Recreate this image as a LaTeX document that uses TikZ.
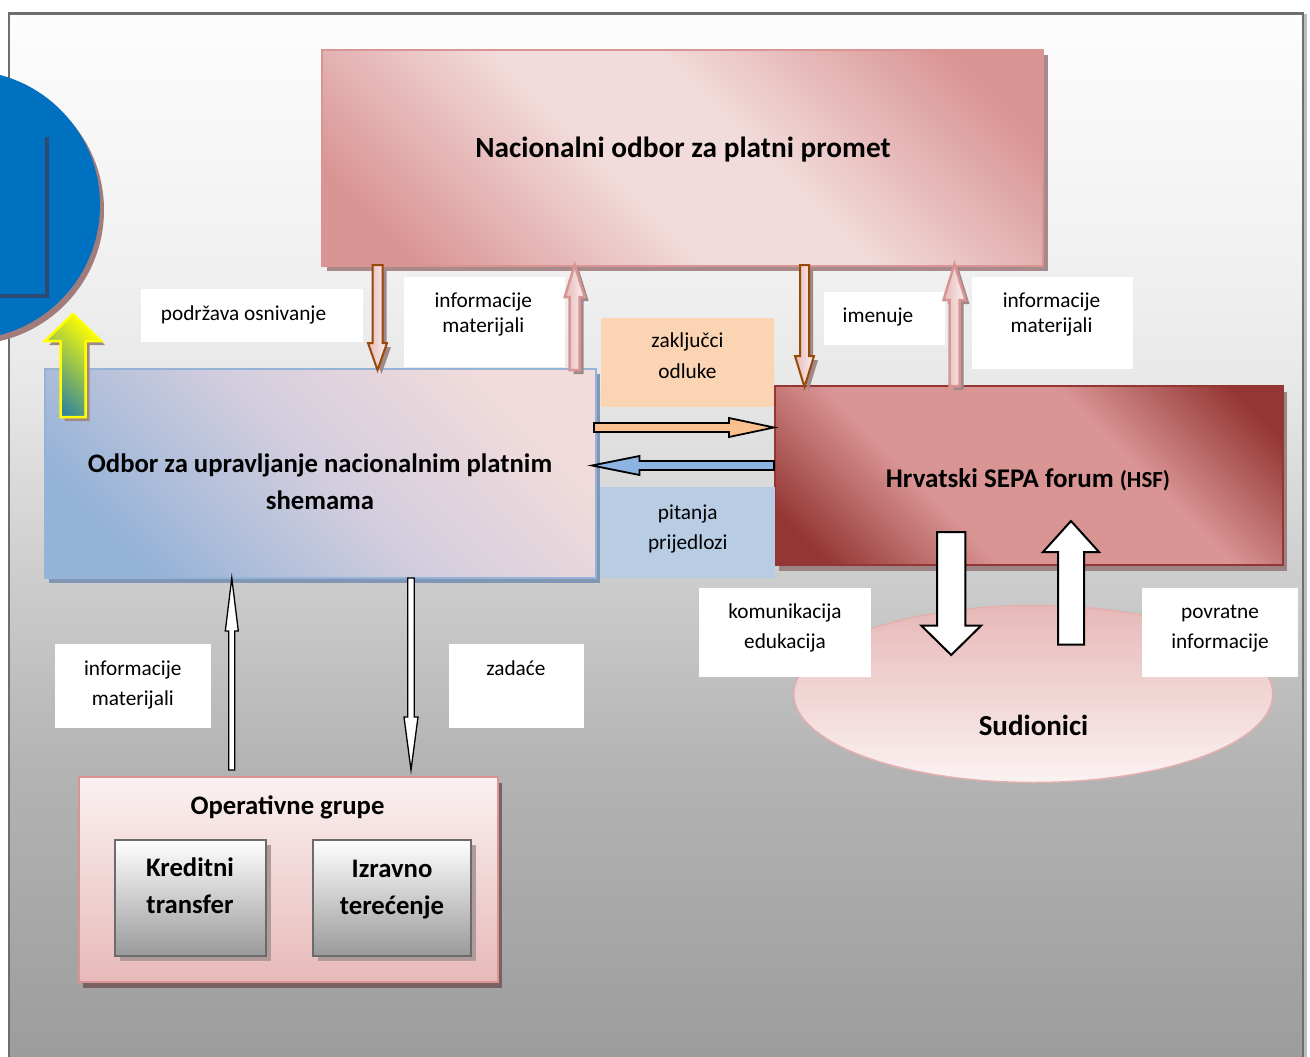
\documentclass[tikz,border=0pt]{standalone}
\usepackage{fontspec}
\setmainfont{Carlito}
\usetikzlibrary{shadows,shapes.geometric}
\definecolor{bgA}{HTML}{9C9C9C}
\definecolor{bgB}{HTML}{B4B4B4}
\definecolor{bgC}{HTML}{CFCFCF}
\definecolor{bgD}{HTML}{E8E8E8}
\definecolor{bgE}{HTML}{F0F0F0}
\definecolor{bgF}{HTML}{FDFDFD}
\definecolor{frameC}{HTML}{6E6E6E}
\definecolor{frameS}{HTML}{BDBDBD}
\definecolor{nobDark}{HTML}{D99594}
\definecolor{nobLight}{HTML}{F2DCDB}
\definecolor{hsfDark}{HTML}{943634}
\definecolor{hsfLight}{HTML}{D99594}
\definecolor{ounsBlue}{HTML}{95B3D7}
\definecolor{ounsMid}{HTML}{D2CDDE}
\definecolor{ounsPink}{HTML}{F2DCDB}
\definecolor{brownC}{HTML}{984807}
\definecolor{pinkEdge}{HTML}{D99594}
\definecolor{arrPink}{HTML}{E6B9B8}
\definecolor{arrLight}{HTML}{FAF0F0}
\definecolor{peachF}{HTML}{FBD4B4}
\definecolor{paleBlue}{HTML}{B8CCE4}
\definecolor{orangeF}{HTML}{FAC090}
\definecolor{blueF}{HTML}{8DB3E2}
\definecolor{circBlue}{HTML}{0070C0}
\definecolor{circLine}{HTML}{2C4A72}
\definecolor{yTeal}{HTML}{31859C}
\definecolor{yYellow}{HTML}{FFFF00}
\definecolor{sudTop}{HTML}{E6B9B8}
\definecolor{sudBot}{HTML}{FCF2F2}
\definecolor{sudEdge}{HTML}{E3B0AF}
\definecolor{opgTop}{HTML}{FBF1F1}
\definecolor{opgBot}{HTML}{E6B9B8}
\definecolor{grayBot}{HTML}{999999}
\definecolor{grayEdge}{HTML}{6B6B6B}
\definecolor{shNob}{HTML}{A88A8A}
\definecolor{shOuns}{HTML}{8096B4}
\definecolor{shHsf}{HTML}{9C8484}
\definecolor{shOpg}{HTML}{7A6262}
\definecolor{shGray}{HTML}{B09A9A}
\definecolor{shArr}{HTML}{A08888}
\definecolor{shCirc}{HTML}{A07C7C}
\pgfdeclareverticalshading{bgshade}{100bp}{color(0bp)=(bgA); color(25bp)=(bgA); color(39.2bp)=(bgB); color(48.8bp)=(bgC); color(57.4bp)=(bgD); color(62.7bp)=(bgE); color(75bp)=(bgF); color(100bp)=(bgF)}
\pgfdeclareverticalshading{nobshade}{100bp}{color(0bp)=(nobDark); color(22bp)=(nobDark); color(44bp)=(nobLight); color(56bp)=(nobLight); color(78bp)=(nobDark); color(100bp)=(nobDark)}
\pgfdeclareverticalshading{hsfshade}{100bp}{color(0bp)=(hsfDark); color(20bp)=(hsfDark); color(38bp)=(hsfLight); color(62bp)=(hsfLight); color(80bp)=(hsfDark); color(100bp)=(hsfDark)}
\newcommand{\arrV}[7]{\path[#1] ({#2-#6},#3) -- ({#2-#6},#4) -- ({#2-#7},#4) -- (#2,#5) -- ({#2+#7},#4) -- ({#2+#6},#4) -- ({#2+#6},#3) -- cycle;}
\newcommand{\arrH}[7]{\path[#1] (#3,{#2-#6}) -- (#4,{#2-#6}) -- (#4,{#2-#7}) -- (#5,#2) -- (#4,{#2+#7}) -- (#4,{#2+#6}) -- (#3,{#2+#6}) -- cycle;}
\tikzset{
  every node/.style={inner sep=0pt, outer sep=0pt},
  boxnode/.style={rectangle, anchor=north west},
  nobbox/.style={boxnode, draw=nobDark, line width=2pt, shading=nobshade, shading angle=-45,
    drop shadow={shadow xshift=5pt, shadow yshift=-5pt, fill=shNob, opacity=1}},
  ounsbox/.style={boxnode, draw=ounsBlue, line width=2.5pt, top color=ounsPink, bottom color=ounsBlue, middle color=ounsMid, shading angle=-45,
    drop shadow={shadow xshift=4pt, shadow yshift=-5pt, fill=shOuns, opacity=1}},
  hsfbox/.style={boxnode, draw=hsfDark, line width=2.5pt, shading=hsfshade, shading angle=-45,
    drop shadow={shadow xshift=4pt, shadow yshift=-6pt, fill=shHsf, opacity=1}},
  opgbox/.style={boxnode, draw=nobDark, line width=2.5pt, top color=opgTop, bottom color=opgBot,
    drop shadow={shadow xshift=4pt, shadow yshift=-6pt, fill=shOpg, opacity=1}},
  graybox/.style={boxnode, draw=grayEdge, line width=2.5pt, top color=white, bottom color=grayBot,
    drop shadow={shadow xshift=5pt, shadow yshift=-5pt, fill=shGray, opacity=1}},
  lblbox/.style={boxnode, fill=white},
  lbl/.style={align=center, font=\fontsize{21.3}{30}\selectfont},
  bigtxt/.style={align=center, font=\bfseries\fontsize{26.7}{36.7}\selectfont},
  brownarrow/.style={draw=brownC, line width=2pt, left color=arrPink, right color=arrLight,
    drop shadow={shadow xshift=4pt, shadow yshift=-4pt, fill=shArr, opacity=1}},
  pinkarrow/.style={draw=pinkEdge, line width=2.5pt, left color=arrPink, right color=arrLight,
    drop shadow={shadow xshift=4pt, shadow yshift=-4pt, fill=shArr, opacity=1}},
  thinarrow/.style={draw=black, line width=1.3pt, fill=white},
  bigarrow/.style={draw=black, line width=2pt, fill=white},
  orangearrow/.style={draw=black, line width=1.8pt, fill=orangeF},
  bluearrow/.style={draw=black, line width=1.8pt, fill=blueF},
  yellowarrow/.style={draw=yYellow, line width=2.5pt, bottom color=yTeal, top color=yYellow, shading angle=-45,
    drop shadow={shadow xshift=4pt, shadow yshift=-4pt, fill=shArr, opacity=1}}
}
\begin{document}
\begin{tikzpicture}[x=1pt,y=-1pt]
\useasboundingbox (0,0) rectangle (1310,1057);
\clip (0,0) rectangle (1310,1057);
% page background and frame
\shade[shading=bgshade] (9,13) rectangle (1303,1060);
\draw[frameS, line width=2.5pt] (1305.5,14) -- (1305.5,1060);
\draw[frameC, line width=2.3pt] (9,1060) -- (9,13.5) -- (1303,13.5) -- (1303,1060);
% blue circle
\fill[circBlue, drop shadow={shadow xshift=4pt, shadow yshift=-5pt, fill=shCirc, opacity=1}] (-34.5,205) circle[radius=134.5pt];
\draw[circLine, line width=4pt] (0,296) -- (47,296) -- (47,137);
% main boxes
\node[nobbox, minimum width=721, minimum height=216] (nob) at (322,50) {};
\node[ounsbox, minimum width=551, minimum height=209] (ouns) at (45,369) {};
\node[hsfbox, minimum width=508, minimum height=179] (hsf) at (775,386) {};
\node[ellipse, draw=sudEdge, line width=1.5pt, top color=sudTop, bottom color=sudBot, minimum width=479, minimum height=177] (sud) at (1033.3,694) {};
\node[opgbox, minimum width=419, minimum height=205] (opg) at (79,777) {};
\node[graybox, minimum width=151, minimum height=116] (kt) at (115,840) {};
\node[graybox, minimum width=158, minimum height=116] (izt) at (313,840) {};
% label boxes
\node[lblbox, minimum width=222, minimum height=53] (bPod) at (141,289) {};
\node[lblbox, minimum width=161, minimum height=90] (bInf1) at (404,277) {};
\node[lblbox, fill=peachF, minimum width=173, minimum height=89] (bZak) at (601,318) {};
\node[lblbox, fill=paleBlue, minimum width=175, minimum height=91] (bPit) at (600,487) {};
\node[lblbox, minimum width=121, minimum height=53] (bIme) at (824,292) {};
\node[lblbox, minimum width=161, minimum height=92] (bInf2) at (972,277) {};
\node[lblbox, minimum width=156, minimum height=84] (bInf3) at (55,644) {};
\node[lblbox, minimum width=135, minimum height=84] (bZad) at (449,644) {};
\node[lblbox, minimum width=172, minimum height=89] (bKom) at (699,588) {};
\node[lblbox, minimum width=156, minimum height=89] (bPov) at (1142,588) {};
% texts
\node[align=center, font=\bfseries\fontsize{29.3}{34}\selectfont] (tNob) at (683,150) {Nacionalni odbor za platni promet};
\node[bigtxt] (tOuns) at (320,482) {Odbor za upravljanje nacionalnim platnim\\shemama};
\node[bigtxt, font=\bfseries\fontsize{27}{34}\selectfont] (tHsf) at (1028,480) {Hrvatski SEPA forum {\fontsize{23}{23}\selectfont(HSF)}};
\node[align=center, font=\bfseries\fontsize{29}{34}\selectfont] (tSud) at (1033.5,725) {Sudionici};
\node[bigtxt] (tOpg) at (287.5,807) {Operativne grupe};
\node[bigtxt] (tKt) at (190,885.7) {Kreditni\\transfer};
\node[bigtxt] (tIzt) at (392,889.5) {Izravno\\terećenje};
\node[lbl] (tPod) at (243.5,314.8) {podržava osnivanje};
\node[lbl, font=\fontsize{21.3}{24.4}\selectfont] (tInf1) at (483.3,314.3) {informacije\\materijali};
\node[lbl, font=\fontsize{21.3}{30.6}\selectfont] (tZak) at (687.5,355.7) {zaključci\\odluke};
\node[lbl] (tPit) at (687.8,528.7) {pitanja\\prijedlozi};
\node[lbl] (tIme) at (878,316.7) {imenuje};
\node[lbl, font=\fontsize{21.3}{24.4}\selectfont] (tInf2) at (1051.5,314.3) {informacije\\materijali};
\node[lbl] (tInf3) at (132.8,684.8) {informacije\\materijali};
\node[lbl] (tZad) at (515.9,667.7) {zadaće};
\node[lbl] (tKom) at (785,628) {komunikacija\\edukacija};
\node[lbl] (tPov) at (1220,629) {povratne\\informacije};
% block arrows
\arrV{brownarrow}{377.5}{265}{343}{370}{5}{9.5}
\arrV{pinkarrow}{574.7}{370}{297}{265}{5}{10}
\arrV{brownarrow}{804.5}{265}{356}{387}{4.5}{9.5}
\arrV{pinkarrow}{954.5}{386}{300}{264}{5}{11}
\arrH{orangearrow}{427.5}{594}{729}{774}{4.5}{9.5}
\arrH{bluearrow}{465.5}{774}{639.5}{592}{4.5}{9.5}
\arrV{thinarrow}{231.8}{770}{631}{578}{3}{6.5}
\arrV{thinarrow}{411}{578}{717}{770}{3.2}{7}
\arrV{bigarrow}{951.2}{532}{625.5}{655}{14.2}{30}
\arrV{bigarrow}{1071}{644.5}{552}{521}{13}{28}
\arrV{yellowarrow}{73}{417}{341}{314}{12.5}{28}
\end{tikzpicture}
\end{document}
